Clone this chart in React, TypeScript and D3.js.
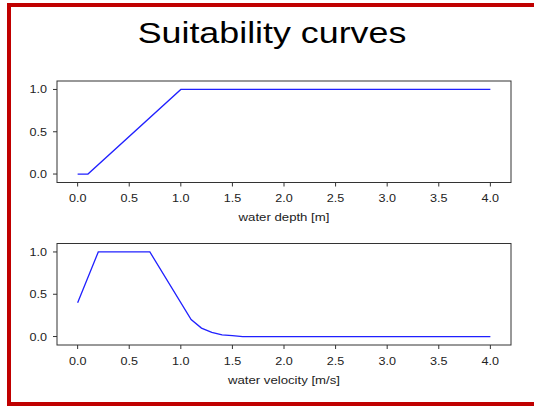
import React from "react";
import * as d3 from "d3";

const title = "Suitability curves";
const depthX = [0, 0.1, 1.0, 4.0];
const depthY = [0, 0, 1.0, 1.0];
const velX = [0, 0.2, 0.7, 1.1, 1.2, 1.3, 1.4, 1.5, 1.6, 4.0];
const velY = [0.4, 1.0, 1.0, 0.2, 0.1, 0.05, 0.02, 0.01, 0, 0];
const xTicks = [0, 0.5, 1.0, 1.5, 2.0, 2.5, 3.0, 3.5, 4.0];
const yTicks = [0, 0.5, 1.0];
const panels = [
  { xs: depthX, ys: depthY, label: "water depth [m]", top: 81 },
  { xs: velX, ys: velY, label: "water velocity [m/s]", top: 243.5 },
];

const W = 534;
const H = 407;
const left = 57;
const right = 511;
const axH = 101.5;
const font = "Liberation Sans, Arial, sans-serif";
const SX = 1.2;

function T({ x, y, size, anchor, sx = SX, fill = "#222", children }: any) {
  return (
    <text
      transform={`translate(${x},${y}) scale(${sx},1)`}
      textAnchor={anchor}
      fontSize={size}
      fill={fill}
      fontFamily={font}
    >
      {children}
    </text>
  );
}

function Panel({ xs, ys, label, top }: { xs: number[]; ys: number[]; label: string; top: number }) {
  const x = d3.scaleLinear().domain([-0.2, 4.2]).range([left, right]);
  const y = d3.scaleLinear().domain([-0.1, 1.1]).range([top + axH, top]);
  const pts: [number, number][] = xs.map((v, i) => [v, ys[i]]);
  const line = d3
    .line<[number, number]>()
    .x((d) => x(d[0]))
    .y((d) => y(d[1]));
  const bottom = top + axH;
  return (
    <g>
      <path d={line(pts) || ""} fill="none" stroke="#2020ff" strokeWidth={1.3} />
      <rect x={left} y={top} width={right - left} height={axH} fill="none" stroke="#333" strokeWidth={1} />
      {xTicks.map((t) => (
        <g key={"x" + t}>
          <line x1={x(t)} x2={x(t)} y1={bottom} y2={bottom + 4} stroke="#333" strokeWidth={1} />
          <T x={x(t)} y={bottom + 19.5} size={10.5} anchor="middle">
            {t.toFixed(1)}
          </T>
        </g>
      ))}
      {yTicks.map((t) => (
        <g key={"y" + t}>
          <line x1={left - 4} x2={left} y1={y(t)} y2={y(t)} stroke="#333" strokeWidth={1} />
          <T x={left - 10} y={y(t) + 4} size={10.5} anchor="end">
            {t.toFixed(1)}
          </T>
        </g>
      ))}
      <T x={(left + right) / 2} y={bottom + 38.5} size={11} anchor="middle">
        {label}
      </T>
    </g>
  );
}

export default function App() {
  return (
    <div style={{ position: "fixed", left: 0, top: 0, width: W, height: H, overflow: "hidden", background: "#fff" }}>
      <svg width={W} height={H} style={{ display: "block" }}>
        <rect x={0} y={0} width={W} height={H} fill="#fff" />
        <line x1={7} x2={W} y1={5} y2={5} stroke="#c00000" strokeWidth={4} />
        <line x1={7} x2={W} y1={404} y2={404} stroke="#c00000" strokeWidth={4} />
        <line x1={9} x2={9} y1={3} y2={406} stroke="#c00000" strokeWidth={4} />
        <T x={272} y={43} size={29} anchor="middle" sx={1.235} fill="#000">
          {title}
        </T>
        {panels.map((p) => (
          <Panel key={p.label} {...p} />
        ))}
      </svg>
    </div>
  );
}
